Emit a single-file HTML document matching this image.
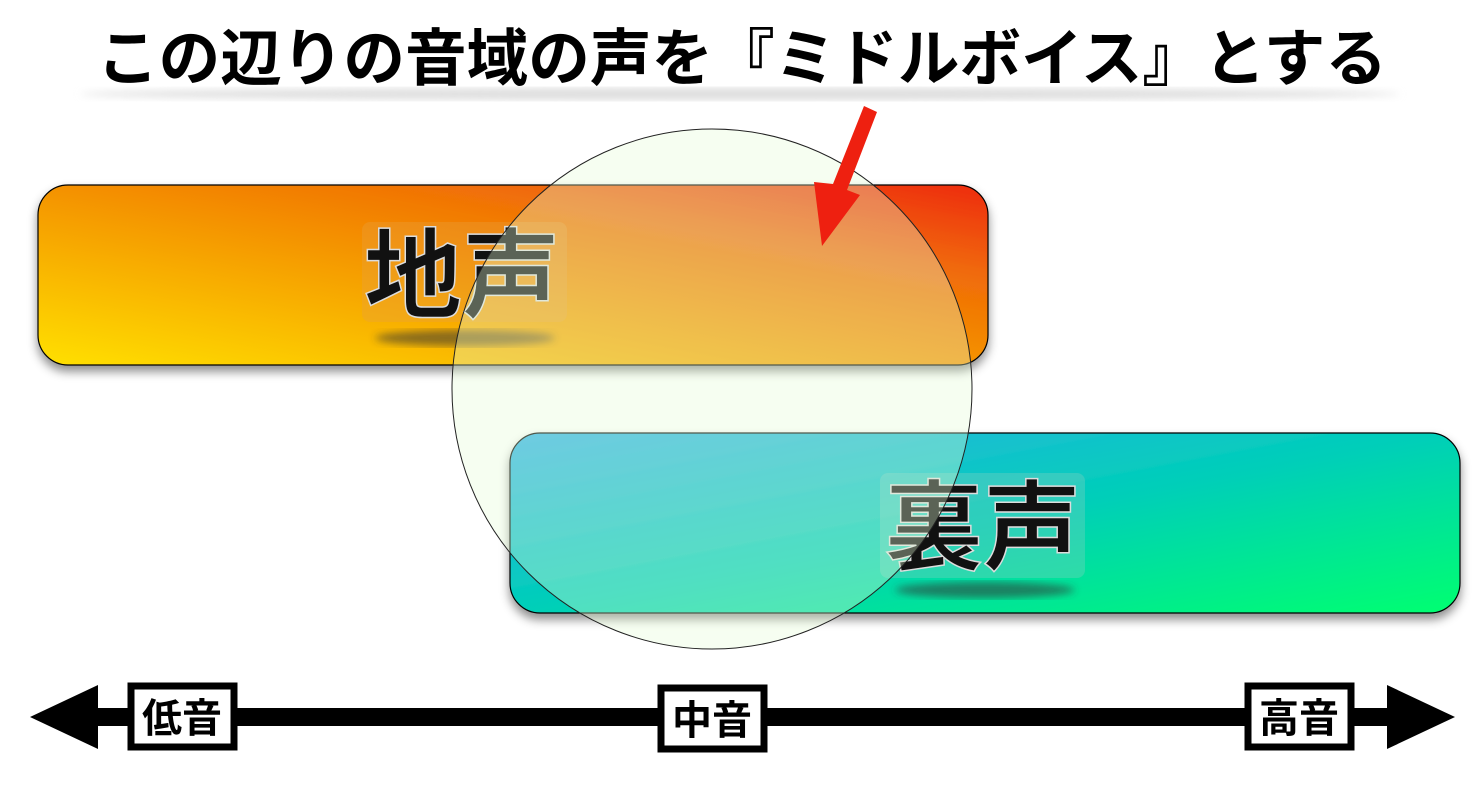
<!DOCTYPE html>
<html><head><meta charset="utf-8"><style>
html,body{margin:0;padding:0;background:#fff;}
svg{display:block;}
text{font-family:"Liberation Sans","Noto Sans CJK JP",sans-serif;}
</style></head><body>
<svg width="1482" height="794" viewBox="0 0 1482 794" xmlns="http://www.w3.org/2000/svg">
<defs>
<linearGradient id="og" x1="0" y1="1" x2="1" y2="0">
<stop offset="0" stop-color="#ffe000"/><stop offset="0.45" stop-color="#f59a00"/><stop offset="0.75" stop-color="#f06a08"/><stop offset="1" stop-color="#ee2a10"/>
</linearGradient>
<linearGradient id="tg" x1="0" y1="0" x2="1" y2="1">
<stop offset="0" stop-color="#30b0e8"/><stop offset="0.5" stop-color="#00cfb8"/><stop offset="1" stop-color="#00ff70"/>
</linearGradient>
<filter id="sh" x="-5%" y="-10%" width="110%" height="130%"><feDropShadow dx="0" dy="6" stdDeviation="5" flood-color="#000" flood-opacity="0.45"/></filter>
<filter id="bl"><feGaussianBlur stdDeviation="4"/></filter>
</defs>
<ellipse cx="740" cy="94" rx="660" ry="6" fill="#ddd" filter="url(#bl)"/>
<text x="742" y="80" font-size="62" font-weight="bold" text-anchor="middle" fill="#000" textLength="1290" lengthAdjust="spacingAndGlyphs">この辺りの音域の声を『ミドルボイス』とする</text>
<rect x="38" y="185" width="950" height="180" rx="30" fill="url(#og)" stroke="#000" stroke-width="1.2" filter="url(#sh)"/>
<rect x="510" y="433" width="950" height="180" rx="30" fill="url(#tg)" stroke="#000" stroke-width="1.2" filter="url(#sh)"/>
<rect x="362" y="222" width="205" height="100" rx="8" fill="#e8a040" opacity="0.35"/>
<ellipse cx="465" cy="338" rx="90" ry="8" fill="#333" opacity="0.55" filter="url(#bl)"/>
<text x="462" y="310" font-size="98" font-weight="bold" text-anchor="middle" fill="#111" stroke="#ddd" stroke-width="1.5">地声</text>
<rect x="880" y="473" width="205" height="105" rx="8" fill="#80d0c0" opacity="0.35"/>
<ellipse cx="985" cy="590" rx="90" ry="8" fill="#333" opacity="0.55" filter="url(#bl)"/>
<text x="983" y="562" font-size="98" font-weight="bold" text-anchor="middle" fill="#111" stroke="#ddd" stroke-width="1.5">裏声</text>
<circle cx="712" cy="389" r="260" fill="#e4fcd8" fill-opacity="0.35" stroke="#222" stroke-width="1"/>
<polygon points="864,106 877,112 847,190 860,195 822,246 814,182 833,184" fill="#ee2010"/>
<rect x="60" y="708" width="1360" height="18" fill="#000"/>
<polygon points="30,717 98,685 98,749" fill="#000"/>
<polygon points="1455,717 1387,685 1387,749" fill="#000"/>
<g font-size="40" font-weight="bold" text-anchor="middle" fill="#000">
<rect x="131" y="686" width="103" height="61" fill="#fff" stroke="#000" stroke-width="7"/>
<text x="182" y="732">低音</text>
<rect x="661" y="688" width="103" height="61" fill="#fff" stroke="#000" stroke-width="7"/>
<text x="712" y="734">中音</text>
<rect x="1248" y="686" width="103" height="61" fill="#fff" stroke="#000" stroke-width="7"/>
<text x="1299" y="732">高音</text>
</g>
</svg>
</body></html>
